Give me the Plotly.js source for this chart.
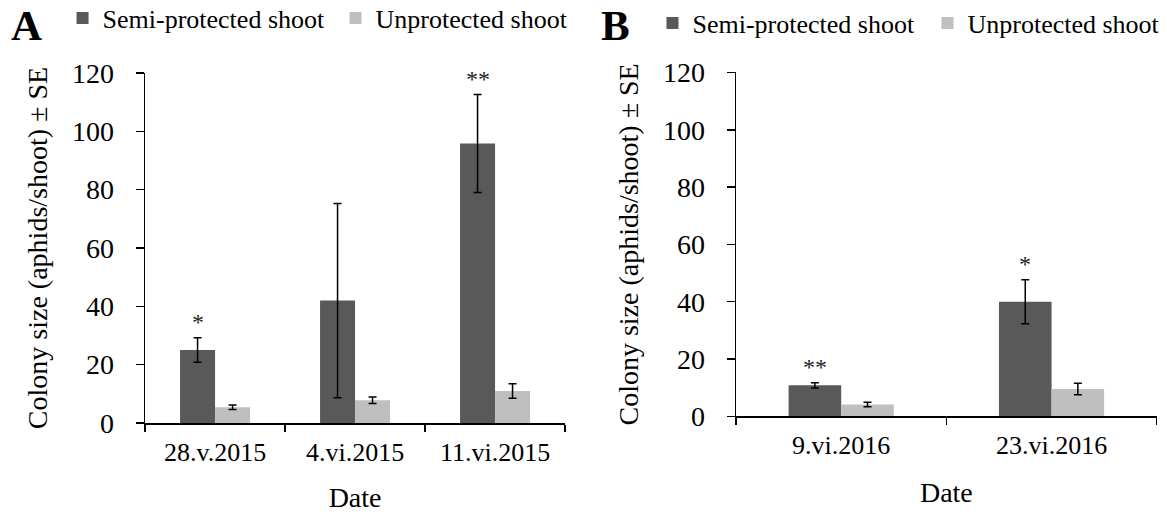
<!DOCTYPE html>
<html>
<head>
<meta charset="utf-8">
<script src="https://cdn.plot.ly/plotly-3.0.1.min.js"></script>
<style>
  html, body { margin: 0; padding: 0; background: #ffffff; }
  #chart { width: 1167px; height: 516px; }
</style>
</head>
<body>
<div id="chart"></div>
<script>
// Sampling dates
const dates2015 = ['28.v.2015', '4.vi.2015', '11.vi.2015'];
const dates2016 = ['9.vi.2016', '23.vi.2016'];

// Mean colony size (aphids/shoot) and standard errors
const semi2015 = [25.0, 42.0, 95.8];
const semi2015Se = [4.2, 33.3, 16.8];
const unprot2015 = [5.4, 7.8, 11.0];
const unprot2015Se = [0.8, 1.1, 2.5];

const semi2016 = [10.8, 40.0];
const semi2016Se = [0.9, 7.7];
const unprot2016 = [4.1, 9.5];
const unprot2016Se = [0.8, 2.0];

// Significance markers above the semi-protected bars
const sig2015 = ['*', '', '**'];
const sig2016 = ['**', '*'];

const seriesNames = ['Semi-protected shoot', 'Unprotected shoot'];
const darkGrey = '#595959';
const lightGrey = '#bfbfbf';
const serif = 'Liberation Serif';

function barTrace(x, y, se, name, color, xa, ya, legend) {
  return {
    type: 'bar', x: x, y: y, name: name, xaxis: xa, yaxis: ya, legend: legend,
    marker: { color: color, line: { width: 0 } },
    error_y: { type: 'data', array: se, visible: true, color: '#000', thickness: 1.5, width: 4 },
    hoverinfo: 'x+y'
  };
}

const traces = [
  barTrace(dates2015, semi2015, semi2015Se, seriesNames[0], darkGrey, 'x', 'y', 'legend'),
  barTrace(dates2015, unprot2015, unprot2015Se, seriesNames[1], lightGrey, 'x', 'y', 'legend'),
  barTrace(dates2016, semi2016, semi2016Se, seriesNames[0], darkGrey, 'x2', 'y2', 'legend2'),
  barTrace(dates2016, unprot2016, unprot2016Se, seriesNames[1], lightGrey, 'x2', 'y2', 'legend2')
];

// Stars sit over the left bar of each group (offset -0.125 of a category)
function starNotes(marks, means, ses, xref, yref) {
  const out = [];
  marks.forEach((m, i) => {
    if (!m) return;
    out.push({
      text: m, x: i - 0.125, y: means[i] + ses[i], xref: xref, yref: yref,
      xanchor: 'center', yanchor: 'bottom', yshift: 1, showarrow: false,
      font: { family: serif, size: 24, color: '#222' }
    });
  });
  return out;
}

function xAxis(domain, anchor, n, standoff) {
  return {
    domain: domain, anchor: anchor, range: [-0.5, n - 0.5],
    type: 'category', showline: true, linecolor: '#000', linewidth: 1.5,
    ticks: 'outside', tickson: 'boundaries', ticklen: 7, tickwidth: 1.5, tickcolor: '#000',
    ticklabelstandoff: 5,
    tickfont: { family: serif, size: 26, color: '#000' },
    showgrid: false, zeroline: false, fixedrange: true,
    title: { text: 'Date', font: { family: serif, size: 28, color: '#000' }, standoff: standoff }
  };
}
function yAxis(domain, anchor) {
  return {
    domain: domain, anchor: anchor,
    range: [0, 120], dtick: 20, showline: true, linecolor: '#000', linewidth: 1.5,
    ticks: 'outside', ticklen: 8, tickwidth: 1.5, tickcolor: '#000',
    ticklabelstandoff: 16,
    tickfont: { family: serif, size: 28, color: '#000' },
    showgrid: false, zeroline: false, fixedrange: true,
    title: { text: 'Colony size (aphids/shoot) ± SE', font: { family: serif, size: 28, color: '#000' }, standoff: 16 }
  };
}

function legendBox(x, y, entry) {
  return {
    orientation: 'h', x: x, y: y, xanchor: 'left', yanchor: 'middle',
    entrywidth: entry, entrywidthmode: 'pixels',
    font: { family: serif, size: 26, color: '#000' }, bgcolor: 'rgba(0,0,0,0)',
    itemclick: false, itemdoubleclick: false
  };
}

const layout = {
  width: 1167, height: 516,
  margin: { l: 0, r: 0, t: 0, b: 0, autoexpand: false },
  paper_bgcolor: '#fff', plot_bgcolor: '#fff',
  barmode: 'group', bargap: 0.5, bargroupgap: 0,
  font: { family: serif, color: '#000' },
  xaxis: xAxis([0.1243, 0.4842], 'y', dates2015.length, 21),
  yaxis: yAxis([0.1802, 0.8585], 'x'),
  xaxis2: xAxis([0.6307, 0.9912], 'y2', dates2016.length, 23),
  yaxis2: yAxis([0.1932, 0.8595], 'x2'),
  legend: legendBox(0.0536, 0.965, 228),
  legend2: legendBox(0.5591, 0.955, 230),
  annotations: [
    { text: '<b>A</b>', x: 0.0223, y: 1, xref: 'paper', yref: 'paper', xanchor: 'center', yanchor: 'top',
      showarrow: false, font: { family: serif, size: 43, color: '#000' } },
    { text: '<b>B</b>', x: 0.5278, y: 1, xref: 'paper', yref: 'paper', xanchor: 'center', yanchor: 'top',
      showarrow: false, font: { family: serif, size: 43, color: '#000' } }
  ].concat(
    starNotes(sig2015, semi2015, semi2015Se, 'x', 'y'),
    starNotes(sig2016, semi2016, semi2016Se, 'x2', 'y2')
  ),
  showlegend: true
};

Plotly.newPlot('chart', traces, layout, { displayModeBar: false, staticPlot: true });
</script>
</body>
</html>
